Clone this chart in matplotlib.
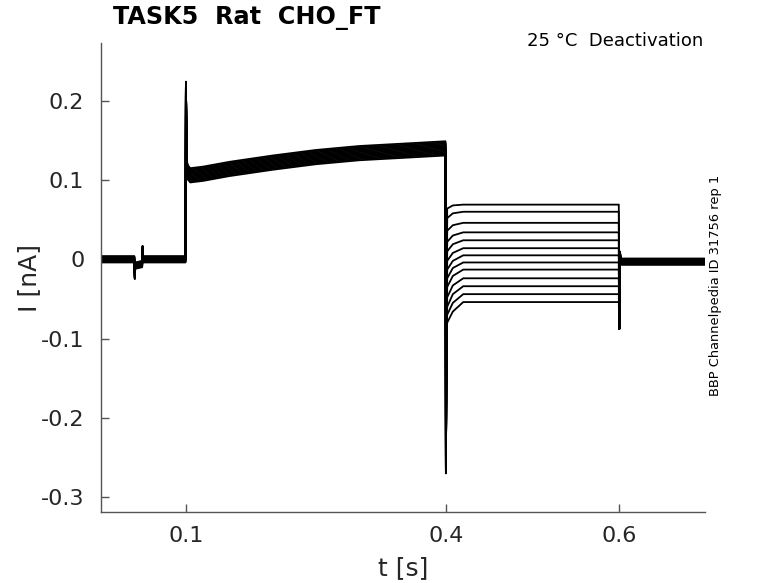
import matplotlib.pyplot as plt
import numpy as np

# --- data (times in s, currents in nA) ---
# holding period before the prepulse, with the small artefact near 0.045 s
t_hold = [0.002, 0.0405, 0.041, 0.0415, 0.0495, 0.050, 0.0505, 0.0995]
i_hold = [0.0, 0.0, -0.021, -0.008, -0.006, 0.013, 0.0, 0.0]

# prepulse (+ capacitive spike at 0.1 s), mean of the band
t_pre = [0.1, 0.1005, 0.101, 0.102, 0.105, 0.12, 0.15, 0.2, 0.25, 0.3, 0.35, 0.3995]
i_pre = [0.224, 0.17, 0.125, 0.110, 0.106, 0.108, 0.114, 0.122, 0.129, 0.134, 0.137, 0.140]

# per-sweep spread of the prepulse band and of the holding baseline
pre_offset = [0.009, 0.0075, 0.006, 0.0045, 0.003, 0.0015, 0.0,
              -0.0015, -0.003, -0.0045, -0.006, -0.0075, -0.009]
base_offset = [0.004, 0.0033, 0.0027, 0.002, 0.0013, 0.0007, 0.0,
               -0.0007, -0.0013, -0.002, -0.0027, -0.0033, -0.004]

# deactivation step (0.4 - 0.6 s): steady level, first value and value at 8 ms
tail_level = [0.069, 0.060, 0.046, 0.034, 0.024, 0.014, 0.005,
              -0.004, -0.013, -0.024, -0.034, -0.044, -0.054]
tail_first = [0.064, 0.052, 0.036, 0.022, 0.010, -0.002, -0.013,
              -0.024, -0.035, -0.048, -0.060, -0.070, -0.080]
tail_8ms = [0.068, 0.058, 0.043, 0.030, 0.019, 0.008, -0.002,
            -0.011, -0.021, -0.033, -0.044, -0.055, -0.066]
step_spike = -0.27
off_spike = -0.088
after_level = -0.003

xticks = [0.1, 0.4, 0.6]
yticks = [0.2, 0.1, 0.0, -0.1, -0.2, -0.3]
ytick_labels = ['0.2', '0.1', '0', '-0.1', '-0.2', '-0.3']

axis_col = '#555555'
text_col = '#262626'

fig = plt.figure(figsize=(7.78, 5.83), dpi=100)
ax = fig.add_axes([0.1298, 0.1218, 0.9062 - 0.1298, 0.9262 - 0.1218])

for k in range(len(tail_level)):
    b = base_offset[k]
    t = (t_hold
         + t_pre
         + [0.4, 0.4008, 0.4015, 0.408, 0.42, 0.5995]
         + [0.6, 0.6008, 0.602, 0.699])
    y = ([v + b for v in i_hold]
         + [i_pre[0], i_pre[1], i_pre[2]] + [v + pre_offset[k] for v in i_pre[3:]]
         + [step_spike, -0.09, tail_first[k], tail_8ms[k], tail_level[k], tail_level[k]]
         + [off_spike, 0.006 + b, after_level + b, after_level + b])
    ax.plot(t, y, color='black', lw=1.3)

ax.set_xlim(0.002, 0.699)
ax.set_ylim(-0.319, 0.273)
ax.set_xticks(xticks)
ax.set_xticklabels([str(v) for v in xticks])
ax.set_yticks(yticks)
ax.set_yticklabels(ytick_labels)

for s in ['top', 'right']:
    ax.spines[s].set_visible(False)
for s in ['left', 'bottom']:
    ax.spines[s].set_color(axis_col)
    ax.spines[s].set_linewidth(1.0)
ax.tick_params(direction='in', length=6, width=1.0, color=axis_col,
               labelcolor=text_col, labelsize=16)
ax.tick_params(axis='y', pad=12)
ax.tick_params(axis='x', pad=10)

ax.set_xlabel('t [s]', fontsize=18, color=text_col, labelpad=7)
ax.set_ylabel('I [nA]', fontsize=18, color=text_col, labelpad=0)

fig.text(113 / 778, 1 - 18 / 583, 'TASK5  Rat  CHO_FT', fontsize=17.2,
         fontweight='bold', ha='left', va='center', color='black')
fig.text(703 / 778, 1 - 41 / 583, '25 °C  Deactivation', fontsize=13.0,
         ha='right', va='center', color='black')
fig.text(716 / 778, 1 - 285 / 583, 'BBP Channelpedia ID 31756 rep 1', fontsize=9.4,
         rotation=90, ha='center', va='center', color='black')

fig.savefig('out.png', dpi=100)
